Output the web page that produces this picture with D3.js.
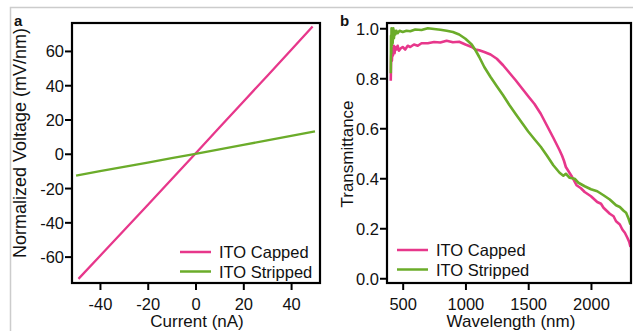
<!DOCTYPE html>
<html>
<head>
<meta charset="utf-8">
<script src="https://cdn.jsdelivr.net/npm/d3@7"></script>
<style>
  body { margin: 0; background: #fff; }
  svg { display: block; font-family: "Liberation Sans", Arial, sans-serif; }
</style>
</head>
<body>
<div id="chart"></div>
<script>
// Panel a: voltage vs current
const currentA = [-49, -40, -30, -20, -10, 0, 10, 20, 30, 40, 49];
const cappedV = [-73.0, -59.6, -44.8, -29.9, -14.9, 0.2, 15.3, 30.4, 45.4, 60.5, 74.3];
const currentB = [-50, -40, -30, -20, -10, 0, 10, 20, 30, 40, 50];
const strippedV = [-12.7, -10.1, -7.6, -5.1, -2.5, 0.0, 2.6, 5.2, 7.8, 10.4, 13.0];

// Panel b: transmittance spectra
const wlCapped = [405, 408, 411, 414, 418, 422, 428, 435, 442, 450, 460, 470, 485, 500, 520, 540, 560, 590, 620, 650,
    700, 750, 800, 850, 900, 950, 1000, 1050, 1080, 1110, 1150, 1200, 1250, 1300, 1350, 1400, 1450, 1500,
    1550, 1600, 1650, 1700, 1750, 1770, 1785, 1800, 1850, 1885, 1920, 1950, 2000, 2050, 2080, 2100, 2150,
    2180, 2200, 2230, 2250, 2270, 2290, 2305, 2315];
const capped = [0.79, 0.88, 0.92, 0.87, 0.91, 0.89, 0.93, 0.90, 0.925, 0.915, 0.93, 0.91, 0.92, 0.925, 0.915, 0.93, 0.925, 0.935, 0.93, 0.94,
    0.94, 0.945, 0.943, 0.95, 0.944, 0.946, 0.935, 0.925, 0.915, 0.912, 0.905, 0.895, 0.878, 0.852, 0.822, 0.792, 0.76, 0.728,
    0.697, 0.658, 0.61, 0.562, 0.512, 0.49, 0.47, 0.445, 0.405, 0.372, 0.36, 0.345, 0.328, 0.305, 0.298, 0.282, 0.258,
    0.248, 0.228, 0.215, 0.195, 0.182, 0.162, 0.145, 0.125];
const wlStripped = [405, 407, 409, 411, 413, 416, 420, 425, 430, 436, 442, 450, 460, 475, 500, 530, 560, 600, 650, 700,
    750, 800, 850, 900, 950, 1000, 1050, 1080, 1110, 1150, 1200, 1250, 1300, 1350, 1400, 1450, 1500, 1550,
    1600, 1650, 1700, 1750, 1780, 1800, 1830, 1870, 1900, 1950, 2000, 2050, 2100, 2150, 2200, 2230, 2260,
    2280, 2300, 2315];
const stripped = [0.82, 0.97, 0.9, 1.0, 0.93, 0.99, 0.94, 1.0, 0.96, 0.99, 0.975, 0.99, 0.98, 0.99, 0.985, 0.99, 0.988, 0.995, 0.993, 1.0,
    0.997, 0.994, 0.99, 0.985, 0.975, 0.958, 0.935, 0.912, 0.885, 0.845, 0.805, 0.768, 0.732, 0.693, 0.657, 0.622, 0.587, 0.556,
    0.526, 0.49, 0.452, 0.422, 0.41, 0.418, 0.402, 0.398, 0.382, 0.368, 0.356, 0.348, 0.332, 0.315, 0.292, 0.285, 0.27,
    0.262, 0.238, 0.215];

const xTicksA = [-40, -20, 0, 20, 40];
const yTicksA = [-60, -40, -20, 0, 20, 40, 60];
const xTicksB = [500, 1000, 1500, 2000];
const yTicksB = [0, 0.2, 0.4, 0.6, 0.8, 1.0];

const pink = "#e7378b";
const green = "#6bac2a";

// plain hyphen minus, no thousands separator
const plain = d => String(d);

const W = 633, H = 331;
const svg = d3.select("#chart").append("svg")
    .attr("width", W)
    .attr("height", H);

// light grey figure border
svg.append("path")
    .attr("d", "M10.5,331V7.5H633")
    .attr("fill", "none")
    .attr("stroke", "#cccccc")
    .attr("stroke-width", 1.5);

function panel(opts) {
    const { left, right, top, bottom } = opts;
    const x = d3.scaleLinear().domain(opts.xDomain).range([left, right]);
    const y = d3.scaleLinear().domain(opts.yDomain).range([bottom, top]);
    const g = svg.append("g");

    const clipId = "clip-" + opts.label;
    svg.append("clipPath").attr("id", clipId)
        .append("rect")
        .attr("x", left).attr("y", top)
        .attr("width", right - left).attr("height", bottom - top);

    // series
    const line = d3.line().x(d => x(d[0])).y(d => y(d[1]));
    opts.series.forEach(s => {
        g.append("path")
            .datum(d3.zip(s.x, s.y))
            .attr("clip-path", `url(#${clipId})`)
            .attr("fill", "none")
            .attr("stroke", s.color)
            .attr("stroke-width", opts.lineWidth)
            .attr("stroke-linejoin", "round")
            .attr("d", line);
    });

    // axes
    const xAxis = g.append("g")
        .attr("transform", `translate(0,${bottom})`)
        .call(d3.axisBottom(x).tickValues(opts.xTicks).tickSize(7).tickSizeOuter(0).tickPadding(8)
            .tickFormat(plain));
    const yAxis = g.append("g")
        .attr("transform", `translate(${left},0)`)
        .call(d3.axisLeft(y).tickValues(opts.yTicks).tickSize(7).tickSizeOuter(0).tickPadding(1)
            .tickFormat(opts.yFormat));
    [xAxis, yAxis].forEach(a => {
        a.select(".domain").remove();
        a.selectAll(".tick line").attr("stroke", "#000").attr("stroke-width", 2);
        a.selectAll(".tick text")
            .attr("fill", "#111")
            .style("font-size", "16.5px")
            .style("font-family", "Liberation Sans, Arial, sans-serif");
    });
    yAxis.selectAll(".tick text").attr("dy", "0.36em");

    // frame
    g.append("rect")
        .attr("x", left).attr("y", top)
        .attr("width", right - left).attr("height", bottom - top)
        .attr("fill", "none")
        .attr("stroke", "#000")
        .attr("stroke-width", 2.2);

    // axis titles
    g.append("text")
        .attr("x", opts.xTitleX).attr("y", 327)
        .attr("text-anchor", "middle")
        .style("font-size", "17px")
        .attr("fill", "#111")
        .text(opts.xTitle);
    g.append("text")
        .attr("transform", `translate(${opts.yTitleX},${opts.yTitleY}) rotate(-90)`)
        .attr("text-anchor", "middle")
        .style("font-size", opts.yTitleSize)
        .attr("fill", "#111")
        .text(opts.yTitle);

    // panel letter
    g.append("text")
        .attr("x", opts.labelX).attr("y", 26)
        .style("font-size", "15px")
        .style("font-weight", "bold")
        .attr("fill", "#111")
        .text(opts.label);

    // legend
    opts.series.forEach((s, i) => {
        const ly = opts.legendY + i * 19.5;
        g.append("line")
            .attr("x1", opts.legendX).attr("x2", opts.legendX + 31)
            .attr("y1", ly).attr("y2", ly)
            .attr("stroke", s.color)
            .attr("stroke-width", 2.5);
        g.append("text")
            .attr("x", opts.legendX + 39).attr("y", ly + 6)
            .style("font-size", "16.5px")
            .attr("fill", "#111")
            .text(s.name);
    });
}

panel({
    label: "a", labelX: 14,
    left: 72, right: 320, top: 23, bottom: 283,
    xDomain: [-51.7, 52.1], yDomain: [-75.4, 76.3],
    xTicks: xTicksA, yTicks: yTicksA, yFormat: plain,
    xTitle: "Current (nA)", xTitleX: 197,
    yTitle: "Normalized Voltage (mV/nm)", yTitleX: 26, yTitleY: 143, yTitleSize: "18px",
    lineWidth: 2.3,
    legendX: 180, legendY: 252,
    series: [
        { name: "ITO Capped", color: pink, x: currentA, y: cappedV },
        { name: "ITO Stripped", color: green, x: currentB, y: strippedV }
    ]
});

panel({
    label: "b", labelX: 340,
    left: 387, right: 631, top: 23, bottom: 283,
    xDomain: [375, 2319], yDomain: [-0.019, 1.021],
    xTicks: xTicksB, yTicks: yTicksB, yFormat: d3.format(".1f"),
    xTitle: "Wavelength (nm)", xTitleX: 511,
    yTitle: "Transmittance", yTitleX: 353, yTitleY: 154, yTitleSize: "17px",
    lineWidth: 2.6,
    legendX: 397, legendY: 250,
    series: [
        { name: "ITO Capped", color: pink, x: wlCapped, y: capped },
        { name: "ITO Stripped", color: green, x: wlStripped, y: stripped }
    ]
});
</script>
</body>
</html>
